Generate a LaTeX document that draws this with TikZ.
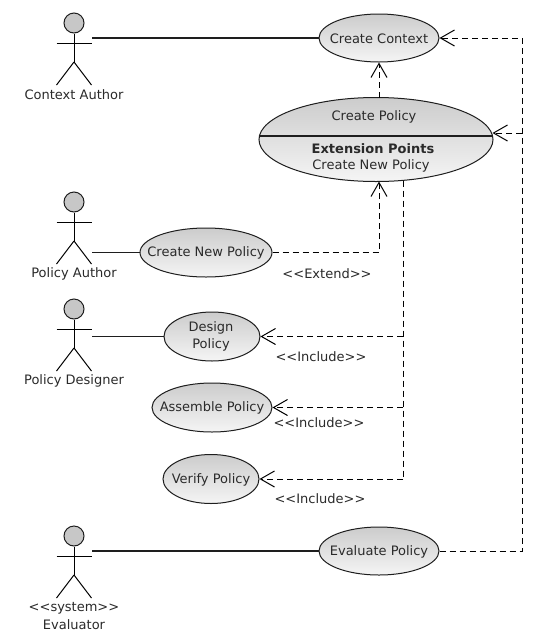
\documentclass[tikz,border=0pt]{standalone}
\usepackage{fontspec}
\setmainfont{DejaVu Sans}
\usetikzlibrary{arrows.meta,calc,shapes.geometric}
\definecolor{ink}{HTML}{1E1E1E}
\definecolor{textink}{HTML}{2A2A2A}
\tikzset{
  usecase/.style={draw=ink,line width=1pt,ellipse,inner sep=0pt,top color=black!20,bottom color=black!4,minimum width=#1},
  usecase/.default=120pt,
  assoc/.style={draw=ink,line width=1.1pt},
  dep/.style={draw=black,line width=1pt,dash pattern=on 6pt off 4pt},
  openarrow/.style={dep,-{Straight Barb[length=14pt,width=16pt,line width=1pt]}},
  limb/.style={draw=black,line width=1pt},
  head/.style={circle,draw=ink,line width=1pt,fill=black!22,minimum size=20pt,inner sep=0pt},
  lbl/.style={font=\fontsize{13}{15}\selectfont,text=textink,inner sep=0pt,align=center},
  lblt/.style={lbl,yshift=-0.8pt},
}
\newcommand{\actorfig}[3]{% name, x, head y
  \node[head] (#1) at (#2,#3) {};
  \draw[limb] (#1.south) -- (#2,#3+39) coordinate (#1hip);
  \draw[limb] ($(#2,#3+20)+(-17.5,0)$) -- ($(#2,#3+20)+(17.5,0)$);
  \draw[limb] (#1hip) -- ($(#1hip)+(-17.5,23)$);
  \draw[limb] (#1hip) -- ($(#1hip)+(17.5,23)$);
}
\newcommand{\lt}{<{}<}
\newcommand{\gt}{>{}>}
\begin{document}
\begin{tikzpicture}[x=1pt,y=-1pt]
\useasboundingbox[fill=white] (0,0) rectangle (541,638);
% actors
\actorfig{ca}{74}{23}
\actorfig{pa}{74}{202}
\actorfig{pd}{74}{309}
\actorfig{ev}{74}{536}
\node[lblt] (caL) at (74,94) {Context Author};
\node[lblt] (paL) at (74,273) {Policy Author};
\node[lblt] (pdL) at (74,380) {Policy Designer};
\node[lblt] (evL1) at (74,607) {\lt system\gt};
\node[lblt] (evL2) at (74,624) {Evaluator};
% use cases
\node[usecase=120pt,minimum height=48pt] (ctx) at (379,38) {};
\node[lblt] (ctxT) at (ctx) {Create Context};
\node[usecase=234pt,minimum height=84pt] (cp) at (376,139.5) {};
\node[usecase=132pt,minimum height=49pt] (np) at (206,252.5) {};
\node[lblt] (npT) at (np) {Create New Policy};
\node[usecase=96pt,minimum height=49pt] (dp) at (212,336.5) {};
\node[lblt] (dpT) at (211,336) {Design\\[2pt]Policy};
\node[usecase=120pt,minimum height=49pt] (ap) at (212,407.5) {};
\node[lblt] (apT) at (ap) {Assemble Policy};
\node[usecase=96pt,minimum height=49pt] (vp) at (211,479) {};
\node[lblt] (vpT) at (vp) {Verify Policy};
\node[usecase=120pt,minimum height=48pt] (evp) at (379,551) {};
\node[lblt] (evpT) at (evp) {Evaluate Policy};
% create policy compartments
\draw[draw=ink,line width=1.4pt] (cp.180) ++(0,-3.5) -- ++(233,0);
\node[lblt] (cpT) at (374,116.5) {Create Policy};
\node[lblt] (cpE) at (373,148) {\textbf{Extension Points}};
\node[lblt] (cpN) at (371,165.5) {Create New Policy};
% waypoints
\coordinate (actorCa) at (92,38);
\coordinate (actorPa) at (92,252.5);
\coordinate (actorPd) at (92,336.5);
\coordinate (actorEv) at (92,551);
\coordinate (rightTop) at (522,38);
\coordinate (rightBot) at (522,551);
\coordinate (rightMid) at (522,133);
\coordinate (cpRight) at (492.5,133);
\coordinate (cpTop) at (379,97.5);
\coordinate (cpBotL) at (379,181.5);
\coordinate (extCorner) at (379,252.5);
\coordinate (cpBotR) at (403,180.5);
\coordinate (incD) at (403,336.5);
\coordinate (incA) at (403,407.5);
\coordinate (incV) at (403,479);
% associations
\draw[assoc] (actorCa) -- (ctx.west);
\draw[assoc] (actorPa) -- (np.west);
\draw[assoc] (actorPd) -- (dp.west);
\draw[assoc] (actorEv) -- (evp.west);
% dependencies
\draw[openarrow] (cpTop) -- (ctx.south);
\draw[openarrow] (np.east) -- (extCorner) -- (cpBotL);
\draw[openarrow] (evp.east) -- (rightBot) -- (rightTop) -- (ctx.east);
\draw[openarrow] (rightMid) -- (cpRight);
\draw[dep] (cpBotR) -- (incV);
\draw[openarrow] (incD) -- (dp.east);
\draw[openarrow] (incA) -- (ap.east);
\draw[openarrow] (incV) -- (vp.east);
% labels
\node[lblt] (extL) at (327,273) {\lt Extend\gt};
\node[lblt] (incL1) at (321,355.5) {\lt Include\gt};
\node[lblt] (incL2) at (319,422) {\lt Include\gt};
\node[lblt] (incL3) at (320,498) {\lt Include\gt};
\end{tikzpicture}
\end{document}
